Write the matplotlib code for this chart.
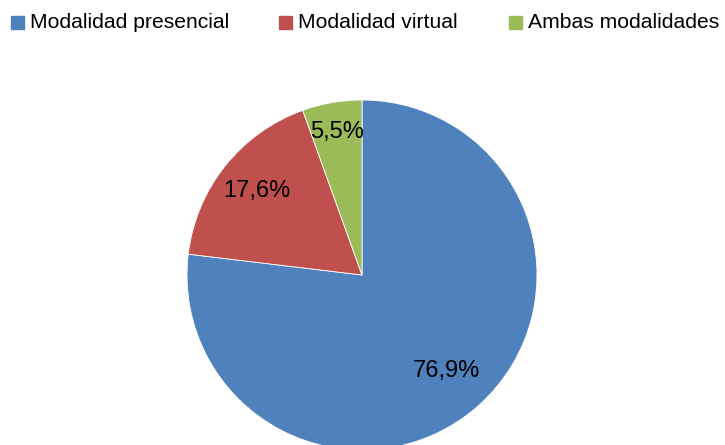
import numpy as np
import matplotlib.pyplot as plt
from matplotlib.patches import Rectangle

categories = ['Modalidad presencial', 'Modalidad virtual', 'Ambas modalidades']
values = [76.9, 17.6, 5.5]
colors = ['#4F81BD', '#C0504D', '#9BBB59']

plt.rcParams['font.family'] = ['Liberation Sans', 'DejaVu Sans']

W, H = 725, 445
fig = plt.figure(figsize=(W / 100, H / 100), dpi=100)
ax = fig.add_axes([0, 0, 1, 1])

# pie: centre and radius in pixel units of the full-figure axes
cx, cy, r = 362, H - 275, 175
wedges, texts, autotexts = ax.pie(
    values, colors=colors, startangle=90, counterclock=False,
    center=(cx, cy), radius=r, frame=True,
    autopct=lambda p: f'{p:.1f}%'.replace('.', ','), pctdistance=0.75,
    wedgeprops=dict(edgecolor='white', linewidth=0.6),
    textprops=dict(fontsize=17, color='black'))

# nudge labels to roughly where Excel put them
label_dist = [0.73, 0.77, 0.83]
for w, t, d in zip(wedges, autotexts, label_dist):
    ang = np.deg2rad((w.theta1 + w.theta2) / 2)
    t.set_position((cx + d * r * np.cos(ang), cy + d * r * np.sin(ang)))

ax.set_xlim(0, W)
ax.set_ylim(0, H)
ax.set_aspect('equal')
ax.axis('off')

# legend row across the top
legend_x = [11, 279, 509]
for x, label, c in zip(legend_x, categories, colors):
    ax.add_patch(Rectangle((x, H - 29), 13, 13, color=c, clip_on=False))
    ax.text(x + 19, H - 22, label, fontsize=15.2, va='center', ha='left')

fig.savefig('out.png', dpi=100)
